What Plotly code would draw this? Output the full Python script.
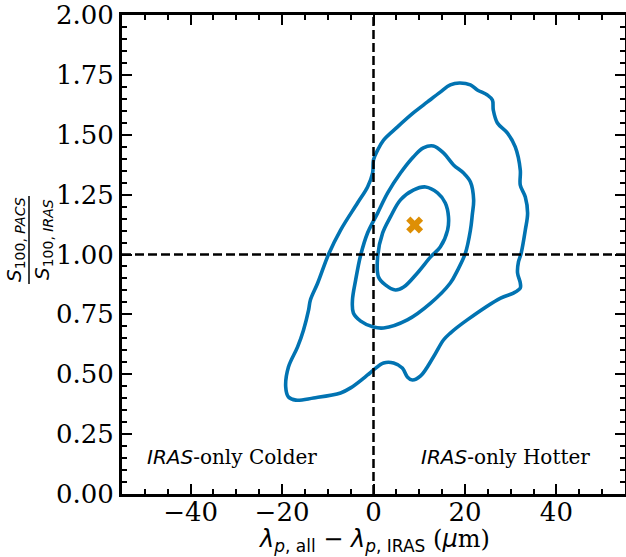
import plotly.graph_objects as go

# Contour levels (x: lambda offset in um, y: flux ratio)
outer_x = [18.8, 21.2, 22.7, 24.9, 26.0, 26.2, 27.1, 29.3, 31.0, 32.1, 32.1, 33.2, 33.7, 33.2,
           32.3, 31.7, 31.5, 32.1, 32.1, 30.6, 27.8, 20.5, 16.8, 15.3, 13.1, 10.3, 8.5, 7.4,
           6.3, 4.4, 2.2, 0.0, -1.3, -5.0, -7.2, -13.1, -17.0, -18.6, -19.2, -18.6, -16.6,
           -15.3, -14.2, -13.8, -12.2, -9.8, -7.2, -3.5, -1.3, -0.2, 0.0, 0.9, 2.2, 5.2, 8.7,
           11.8, 14.6, 16.8]
outer_y = [1.716, 1.708, 1.687, 1.666, 1.645, 1.603, 1.549, 1.507, 1.449, 1.353, 1.290, 1.240,
           1.173, 1.102, 1.006, 0.969, 0.923, 0.881, 0.860, 0.839, 0.818, 0.727, 0.672, 0.643,
           0.572, 0.493, 0.476, 0.489, 0.526, 0.547, 0.547, 0.518, 0.497, 0.443, 0.422, 0.401,
           0.392, 0.405, 0.447, 0.530, 0.614, 0.685, 0.768, 0.810, 0.881, 1.002, 1.102, 1.215,
           1.282, 1.340, 1.395, 1.436, 1.478, 1.532, 1.591, 1.637, 1.678, 1.708]

middle_x = [13.1, 15.3, 17.5, 19.7, 21.2, 21.9, 21.6, 21.2, 20.1, 18.4, 16.8, 12.5, 7.4, 2.2,
            0.0, -2.8, -4.4, -4.6, -3.9, -2.8, -1.3, 0.9, 3.1, 5.9, 8.7, 10.9]
middle_y = [1.453, 1.424, 1.374, 1.340, 1.303, 1.228, 1.165, 1.102, 1.006, 0.935, 0.881, 0.797,
            0.727, 0.693, 0.697, 0.722, 0.756, 0.810, 0.894, 0.998, 1.090, 1.173, 1.257, 1.340,
            1.407, 1.445]

inner_x = [11.4, 14.0, 15.7, 16.4, 16.2, 14.6, 12.5, 9.6, 6.6, 4.8, 2.6, 1.1, 0.9, 2.0, 3.7,
           5.9, 8.7]
inner_y = [1.282, 1.257, 1.215, 1.157, 1.102, 1.031, 0.990, 0.923, 0.864, 0.852, 0.873, 0.906,
           0.990, 1.090, 1.157, 1.228, 1.269]

peak_x = [9.0]
peak_y = [1.123]

x_ticks = [-40, -20, 0, 20, 40]
y_ticks = [0.0, 0.25, 0.5, 0.75, 1.0, 1.25, 1.5, 1.75, 2.0]
x_range = [-55, 55]
y_range = [0, 2]
ref_x = 0
ref_y = 1

BLUE = "#0173B2"
ORANGE = "#DE8F05"

fig = go.Figure()
for cx, cy in [(outer_x, outer_y), (middle_x, middle_y), (inner_x, inner_y)]:
    fig.add_trace(go.Scatter(
        x=cx + cx[:1], y=cy + cy[:1], mode="lines",
        line=dict(color=BLUE, width=3.6, shape="spline", smoothing=1.0),
        hoverinfo="skip", showlegend=False))

fig.add_trace(go.Scatter(
    x=peak_x, y=peak_y, mode="markers",
    marker=dict(symbol="x", size=15, color=ORANGE, line=dict(width=0)),
    showlegend=False))

dash = "9px,4px"
fig.add_shape(type="line", xref="x", yref="paper", x0=ref_x, x1=ref_x, y0=0, y1=1,
              line=dict(color="black", width=2.5, dash=dash), layer="above")
fig.add_shape(type="line", xref="paper", yref="y", x0=0, x1=1, y0=ref_y, y1=ref_y,
              line=dict(color="black", width=2.5, dash=dash), layer="above")

SERIF = "DejaVu Serif"
SANS = "DejaVu Sans"

axis_common = dict(
    showline=True, linecolor="black", linewidth=3, mirror="allticks",
    ticks="inside", ticklen=10, tickwidth=2, tickcolor="black",
    showgrid=False, zeroline=False, automargin=False,
    tickfont=dict(family=SERIF, size=26, color="black"),
    ticklabeloverflow="allow",
)
fig.update_xaxes(range=x_range, tickvals=x_ticks, ticklabelstandoff=-7,
                 minor=dict(dtick=5, ticks="inside", ticklen=5, tickwidth=1.5, tickcolor="black"),
                 **axis_common)
fig.update_yaxes(range=y_range, tickvals=y_ticks, tickformat=".2f",
                 minor=dict(dtick=0.05, ticks="inside", ticklen=5, tickwidth=1.5, tickcolor="black"),
                 **axis_common)

W, H = 626, 557
L, R, T, B = 122, 1, 15, 63
pw = W - L - R
ph = H - T - B

def px_to_paper_x(px):
    return (px - L) / pw

def py_to_paper_y(py):
    return (H - B - py) / ph

sub = 'style="font-size:17px"'
annotations = [
    dict(x=0.5, y=py_to_paper_y(540), xref="paper", yref="paper",
         text=(f'<span style="font-family:{SANS}"><i>λ</i><sub><span {sub}><i>p</i>, all</span></sub>'
               f' − <i>λ</i><sub><span {sub}><i>p</i>, IRAS</span></sub></span>'
               f' (<span style="font-family:{SANS}"><i>μ</i></span>m)'),
         showarrow=False, xanchor="center", yanchor="middle",
         font=dict(family=SERIF, size=24, color="black")),
    dict(x=px_to_paper_x(15), y=py_to_paper_y(240), xref="paper", yref="paper", textangle=-90,
         text="<i>S</i><sub>100, <i>PACS</i></sub>", showarrow=False,
         xanchor="center", yanchor="middle", font=dict(family=SANS, size=20, color="black")),
    dict(x=px_to_paper_x(43), y=py_to_paper_y(240), xref="paper", yref="paper", textangle=-90,
         text="<i>S</i><sub>100, <i>IRAS</i></sub>", showarrow=False,
         xanchor="center", yanchor="middle", font=dict(family=SANS, size=20, color="black")),
    dict(x=px_to_paper_x(145), y=py_to_paper_y(457), xref="paper", yref="paper",
         text=f'<span style="font-family:{SANS}"><i>IRAS</i></span>-only Colder',
         showarrow=False, xanchor="left", yanchor="middle",
         font=dict(family=SERIF, size=20, color="black")),
    dict(x=px_to_paper_x(419), y=py_to_paper_y(457), xref="paper", yref="paper",
         text=f'<span style="font-family:{SANS}"><i>IRAS</i></span>-only Hotter',
         showarrow=False, xanchor="left", yanchor="middle",
         font=dict(family=SERIF, size=20, color="black")),
]

fig.add_shape(type="line", xref="paper", yref="paper",
              x0=px_to_paper_x(29), x1=px_to_paper_x(29),
              y0=py_to_paper_y(284), y1=py_to_paper_y(196),
              line=dict(color="black", width=1.5))

fig.update_layout(
    width=W, height=H, autosize=False,
    margin=dict(l=L, r=R, t=T, b=B),
    paper_bgcolor="white", plot_bgcolor="white",
    annotations=annotations, showlegend=False,
)

fig.write_html(
    "out.html",
    config={"displayModeBar": False},
    post_script="document.body.style.margin='0';document.body.style.overflow='hidden';",
)
